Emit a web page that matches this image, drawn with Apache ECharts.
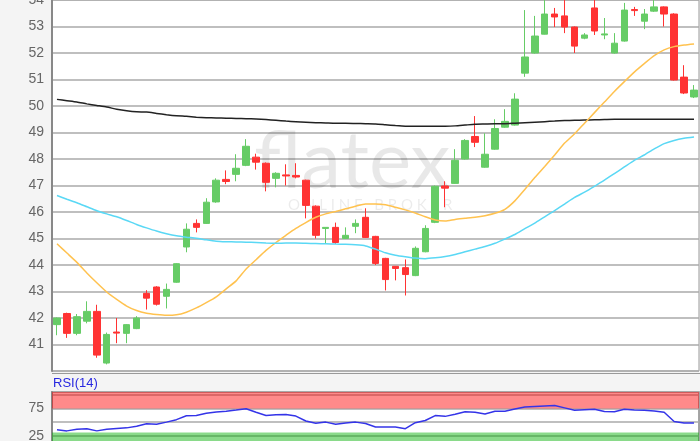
<!DOCTYPE html>
<html><head><meta charset="utf-8">
<script src="https://cdn.jsdelivr.net/npm/echarts@6/dist/echarts.min.js"></script>
<style>html,body{margin:0;padding:0;background:#f4f4f4}#c{width:700px;height:441px}</style>
</head><body><div id="c"></div>
<script>
const categories = Array.from({length:65},(_,i)=>'T'+(i+1));
const opens  = [41.75,42.17,41.42,41.88,42.25,40.3,41.47,41.42,41.6,42.93,43.17,42.82,43.35,44.68,45.57,45.57,46.38,47.23,47.42,47.76,48.07,47.84,47.27,47.4,47.38,47.2,46.22,45.38,45.42,45.0,45.46,45.8,45.08,44.25,43.95,43.9,43.6,44.5,45.61,46.98,47.08,48.0,48.85,47.69,48.37,49.2,49.28,51.24,52.0,52.71,53.47,53.4,52.98,52.56,53.7,52.68,52.0,52.45,53.64,53.2,53.58,53.74,53.47,51.09,50.34];
const closes = [42.0,41.42,42.05,42.25,40.6,41.38,41.43,41.75,42.0,42.75,42.52,43.08,44.05,45.35,45.42,46.37,47.2,47.15,47.65,48.48,47.88,47.12,47.46,47.36,47.32,46.25,45.12,45.42,44.85,45.12,45.57,45.04,44.06,43.45,43.87,43.64,44.63,45.38,46.97,46.9,47.95,48.7,48.63,48.18,49.15,49.42,50.26,51.85,52.64,53.47,53.36,52.98,52.26,52.68,52.83,52.72,52.37,53.62,53.6,53.47,53.74,53.47,50.98,50.49,50.6];
const highs  = [42.02,42.2,42.15,42.63,42.5,41.45,42.0,41.77,42.07,43.05,43.2,43.3,44.07,45.57,45.72,46.52,47.27,47.57,48.18,48.75,48.2,47.87,47.5,47.8,47.84,47.22,46.25,45.42,45.6,45.42,45.72,46.14,45.1,44.27,43.96,44.21,44.7,45.5,47.0,47.16,48.37,48.75,49.62,48.97,49.5,49.88,50.48,53.62,53.4,54.05,53.7,54.05,53.0,52.75,54.05,53.32,52.75,53.89,53.74,53.66,54.0,53.76,53.5,51.54,50.79];
const lows   = [41.35,41.25,41.35,41.8,40.5,40.25,41.05,41.05,41.58,42.32,42.47,42.36,43.33,44.48,45.23,45.55,46.35,47.05,47.16,47.73,47.6,46.78,46.93,47.0,47.27,45.76,45.0,44.82,44.8,45.0,45.2,45.02,44.0,43.04,43.42,42.85,43.58,44.48,45.58,46.18,47.06,47.98,48.45,47.67,48.35,49.18,49.26,51.1,51.98,52.7,52.98,52.75,52.0,52.52,52.68,52.52,51.98,52.43,53.4,52.9,53.55,53.0,50.96,50.45,50.3];
const maLong = [50.25,50.2,50.15,50.08,50.02,49.96,49.88,49.82,49.78,49.77,49.72,49.67,49.63,49.61,49.58,49.56,49.55,49.54,49.53,49.52,49.51,49.49,49.46,49.43,49.41,49.39,49.37,49.36,49.35,49.35,49.34,49.33,49.32,49.29,49.26,49.24,49.24,49.24,49.24,49.24,49.25,49.28,49.31,49.32,49.33,49.33,49.35,49.37,49.39,49.41,49.43,49.45,49.46,49.47,49.48,49.49,49.5,49.5,49.5,49.5,49.5,49.5,49.5,49.5,49.5];
const maShort = [44.8,44.45,44.1,43.7,43.33,42.98,42.7,42.45,42.28,42.18,42.13,42.1,42.12,42.22,42.38,42.58,42.8,43.1,43.4,43.85,44.2,44.55,44.85,45.12,45.38,45.6,45.8,45.93,46.02,46.12,46.22,46.3,46.3,46.27,46.18,46.08,45.96,45.82,45.7,45.66,45.72,45.76,45.8,45.86,45.95,46.1,46.42,46.85,47.3,47.72,48.15,48.6,48.95,49.35,49.75,50.15,50.55,50.92,51.28,51.6,51.9,52.12,52.24,52.3,52.34];
const maMid = [46.62,46.48,46.35,46.2,46.05,45.93,45.82,45.68,45.53,45.4,45.28,45.18,45.1,45.05,45.01,44.95,44.9,44.88,44.87,44.86,44.85,44.83,44.82,44.83,44.83,44.82,44.81,44.8,44.79,44.78,44.76,44.72,44.6,44.46,44.37,44.31,44.26,44.24,44.27,44.32,44.4,44.5,44.6,44.7,44.82,44.98,45.15,45.37,45.58,45.82,46.05,46.3,46.55,46.75,46.97,47.2,47.45,47.7,47.95,48.15,48.38,48.58,48.7,48.78,48.83];
const rsi = [36,34,37,38,34,37,38.5,39.5,42.5,47,46,50,54.5,61.5,62,66,68.5,70,72,74.5,68,62,63.5,64,61,52,48,50,46,48.5,50,47.5,41,41,41,38,49,53,62,60.5,64.5,69,68,65,70,70,74,77.5,78.5,79.5,80.5,76,71.5,72.5,73.5,69.5,69,73.5,72,71.5,70.5,68,51,48.2,48.2];
const priceTicks = [41,42,43,44,45,46,47,48,49,50,51,52,53,54];
const rsiTicks = [25,75];

const chart = echarts.init(document.getElementById('c'));
const ohlc = opens.map((o,i)=>[o, closes[i], lows[i], highs[i]]);
const font = 'Liberation Sans, Arial, sans-serif';
chart.setOption({
  animation:false,
  backgroundColor:'#f4f4f4',
  grid:[
    {left:52,right:1,top:0,height:371,outerBoundsMode:'none',containLabel:false,show:true,backgroundColor:'#fff',borderColor:'#999',borderWidth:1},
    {left:52,right:1,top:392,height:57.5,outerBoundsMode:'none',containLabel:false,show:true,backgroundColor:'#fff',borderColor:'#888',borderWidth:1.5}
  ],
  xAxis:[
    {type:'category',data:categories,gridIndex:0,boundaryGap:true,axisLabel:{show:false},axisTick:{show:false},axisLine:{show:false},splitLine:{show:false}},
    {type:'category',data:categories,gridIndex:1,boundaryGap:true,axisLabel:{show:false},axisTick:{show:false},axisLine:{show:false},splitLine:{show:false}}
  ],
  yAxis:[
    {type:'value',gridIndex:0,min:40,max:54,interval:1,position:'left',
     axisLine:{show:true,lineStyle:{color:'#888',width:2}},axisTick:{show:false},
     axisLabel:{color:'#666',fontSize:14,fontFamily:font,margin:8,formatter:v=>priceTicks.includes(v)?String(v):''},
     splitLine:{lineStyle:{color:'#aaa',width:1.5}}},
    {type:'value',gridIndex:1,min:0,max:105,interval:25,position:'left',
     axisLine:{show:true,lineStyle:{color:'#888',width:2}},axisTick:{show:false},
     axisLabel:{color:'#666',fontSize:14,fontFamily:font,margin:8,formatter:v=>rsiTicks.includes(v)?String(v):''},
     splitLine:{lineStyle:{color:'#aaa',width:1.5}}}
  ],
  graphic:[
    {type:'text',z:1,left:254,top:122,style:{text:'flatex',font:'80px Lato, sans-serif',fill:'rgba(0,0,0,0.09)'}},
    {type:'text',z:1,left:288,top:198,style:{text:'O N L I N E   B R O K E R',font:'15px Lato, sans-serif',fill:'rgba(0,0,0,0.08)'}},
    {type:'line',z:5,shape:{x1:52,y1:373.5,x2:700,y2:373.5},style:{stroke:'#999',lineWidth:1}},
    {type:'text',z:5,left:53,top:377,style:{text:'RSI(14)',font:'13px '+font,fill:'#2828e0'}}
  ],
  series:[
    {type:'candlestick',xAxisIndex:0,yAxisIndex:0,data:ohlc,barWidth:7,
     itemStyle:{color:'#66cc66',color0:'#ff3333',borderColor:'#66cc66',borderColor0:'#ff3333',borderWidth:1}},
    {type:'line',xAxisIndex:0,yAxisIndex:0,data:maLong,showSymbol:false,smooth:0.2,lineStyle:{color:'#222',width:1.5}},
    {type:'line',xAxisIndex:0,yAxisIndex:0,data:maShort,showSymbol:false,smooth:0.2,lineStyle:{color:'#ffc24f',width:1.5}},
    {type:'line',xAxisIndex:0,yAxisIndex:0,data:maMid,showSymbol:false,smooth:0.2,lineStyle:{color:'#5ad8f5',width:1.5}},
    {type:'line',xAxisIndex:1,yAxisIndex:1,data:rsi,showSymbol:false,lineStyle:{color:'#3434e8',width:1.5},
     markArea:{silent:true,data:[
       [{yAxis:75,itemStyle:{color:'rgba(255,0,0,0.46)'}},{yAxis:105}],
       [{yAxis:0,itemStyle:{color:'rgba(0,175,0,0.46)'}},{yAxis:31}]
     ]}}
  ]
});
</script></body></html>
